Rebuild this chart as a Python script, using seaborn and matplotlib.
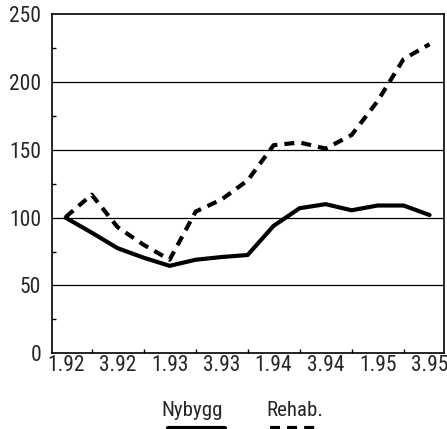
import matplotlib
matplotlib.use("Agg")
import matplotlib.pyplot as plt
from matplotlib.lines import Line2D
from matplotlib.ticker import MultipleLocator, FixedLocator
import seaborn as sns
import pandas as pd

quarters = ["1.92", "2.92", "3.92", "4.92", "1.93", "2.93", "3.93", "4.93",
            "1.94", "2.94", "3.94", "4.94", "1.95", "2.95", "3.95"]
nybygg = [100, 89, 77.5, 70.5, 64.5, 69, 71, 72.5, 94, 107, 110, 105.5, 109, 109, 102]
rehab = [100.5, 117, 93, 80, 69, 104.5, 113.5, 127.5, 153.5, 155.5, 151, 161, 186, 217, 228]
series_names = ["Nybygg", "Rehab."]

sns.set_theme(style="white")
plt.rcParams["font.family"] = ["Roboto Condensed", "Liberation Sans", "DejaVu Sans"]

df = pd.DataFrame({
    "pos": list(range(len(quarters))) * 2,
    "value": nybygg + rehab,
    "serie": [series_names[0]] * len(quarters) + [series_names[1]] * len(quarters),
})

DASH = (0, (2.4, 1.7))

fig = plt.figure(figsize=(4.47, 4.29), dpi=100)
ax = fig.add_axes([0.117, 0.1765, 0.876, 0.79])

for name, g in df.groupby("serie", sort=False):
    ls = DASH if name == "Rehab." else "-"
    sns.lineplot(data=g, x="pos", y="value", ax=ax, color="black", lw=3,
                 linestyle=ls, legend=False)

ax.set_xlim(-0.515, 14.55)
ax.set_ylim(0, 250)
for y in [50, 100, 150, 200]:
    ax.axhline(y, color="black", lw=0.9, zorder=0)

ax.set_xticks(range(0, len(quarters), 2))
ax.set_xticklabels(quarters[::2])
ax.xaxis.set_minor_locator(FixedLocator(range(1, len(quarters), 2)))
ax.yaxis.set_major_locator(MultipleLocator(50))
ax.yaxis.set_minor_locator(MultipleLocator(25))
ax.tick_params(axis="x", which="major", direction="in", length=7, width=1, color="black",
               labelsize=15.5, pad=1.5)
ax.tick_params(axis="x", which="minor", direction="in", length=3, width=1, color="black", bottom=True)
ax.tick_params(axis="y", which="major", direction="in", length=0, labelsize=15.5, pad=8)
ax.tick_params(axis="y", which="minor", direction="in", length=3, width=1, color="black", left=True)
ax.set_xlabel("")
ax.set_ylabel("")
for s in ax.spines.values():
    s.set_color("black")
    s.set_linewidth(1.2)

# legend: labels with line samples beneath
fig.text(192 / 447, 1 - 411 / 429, series_names[0], ha="center", va="center", fontsize=15)
fig.text(295 / 447, 1 - 411 / 429, series_names[1], ha="center", va="center", fontsize=15)
fig.add_artist(Line2D([168 / 447, 225 / 447], [1 - 427.5 / 429] * 2, color="black", lw=3,
                      transform=fig.transFigure))
fig.add_artist(Line2D([270 / 447, 318 / 447], [1 - 427.5 / 429] * 2, color="black", lw=3,
                      linestyle=DASH, transform=fig.transFigure))

fig.savefig("out.png", dpi=100)
